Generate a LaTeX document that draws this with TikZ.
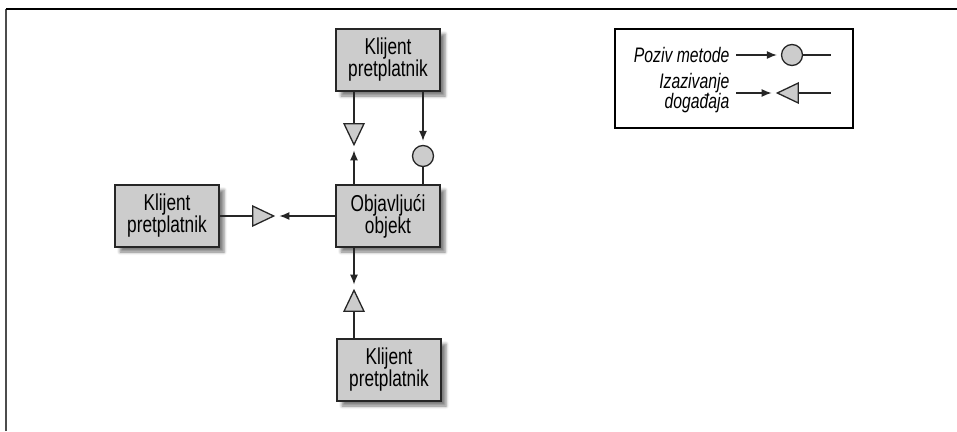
\documentclass[tikz,border=0pt]{standalone}
\usepackage{fontspec}
\setmainfont{Liberation Sans}[FakeStretch=0.75]
\usetikzlibrary{shapes.geometric,shadows.blur,arrows.meta}

\begin{document}
\begin{tikzpicture}[x=1pt,y=-1pt,line width=1.3pt,>={Latex[length=10pt,width=8pt]}]
      \tikzstyle{box}=[rectangle, draw=black!85, line width=1.6pt, fill=black!20, minimum width=104pt, minimum height=62pt, inner sep=0pt, align=center, font=\fontsize{23}{22}\selectfont, blur shadow={shadow xshift=5pt, shadow yshift=-5pt, shadow blur radius=3pt, shadow opacity=50}]
      \tikzstyle{event}=[isosceles triangle, isosceles triangle stretches, draw=black!85, fill=black!20, minimum height=21pt, minimum width=20pt, inner sep=0pt]
      \tikzstyle{method}=[circle, draw=black!85, fill=black!20, minimum size=21pt, inner sep=0pt]
      \tikzstyle{link}=[draw=black!85]
      \tikzstyle{call}=[link, ->, shorten >=4pt]
      \tikzstyle{legtext}=[align=right, anchor=east, inner sep=0pt, font=\fontsize{21}{20}\selectfont\itshape]

      \useasboundingbox (0,0) rectangle (957,431);

      % Draw the frame
      \draw[line width=1.5pt, black!70] (6,431) -- (6,9);
      \draw[line width=1.5pt] (6,9) -- (957,9);

      % Draw the boxes
      \node[box] (K-TOP) at (388,60) {Klijent\\pretplatnik};
      \node[box] (P) at (388,216) {Objavljući\\objekt};
      \node[box] (K-LEFT) at (167,216) {Klijent\\pretplatnik};
      \node[box] (K-BOT) at (389,370) {Klijent\\pretplatnik};

      % Draw the events and the method
      \node[event, rotate=-90] (E-TOP) at (354,130) {};
      \node[method] (M-TOP) at (423,156) {};
      \node[event] (E-LEFT) at (259,216) {};
      \node[event, rotate=90] (E-BOT) at (354,305) {};

      % Connect the publisher with every subscriber
      \draw[link] (E-TOP) -- (E-TOP |- K-TOP.south);
      \draw[call] (E-TOP |- P.north) -- (E-TOP);
      \draw[call] (M-TOP |- K-TOP.south) -- (M-TOP);
      \draw[link] (M-TOP) -- (M-TOP |- P.north);
      \draw[call] (P) -- (E-LEFT);
      \draw[link] (E-LEFT) -- (K-LEFT);
      \draw[call] (E-BOT |- P.south) -- (E-BOT);
      \draw[link] (E-BOT) -- (E-BOT |- K-BOT.north);

      % Draw the legend
      \node[draw, line width=2.2pt, minimum width=238pt, minimum height=99pt] (LEG) at (734,78.5) {};
      \node[legtext] (L-CALL) at (730,55) {Poziv metode};
      \node[method] (LM) at (792,55) {};
      \coordinate (LM-START) at (736,55);
      \coordinate (LM-END) at (831,55);
      \draw[call] (LM-START) -- (LM);
      \draw[link] (LM) -- (LM-END);

      \node[legtext] (L-EVT) at (730,93) {Izazivanje\\događaja};
      \node[event, rotate=180] (LE) at (792,93) {};
      \coordinate (LE-START) at (736,93);
      \coordinate (LE-END) at (831,93);
      \draw[call] (LE-START) -- (LE);
      \draw[link] (LE) -- (LE-END);
  \end{tikzpicture}
\end{document}
